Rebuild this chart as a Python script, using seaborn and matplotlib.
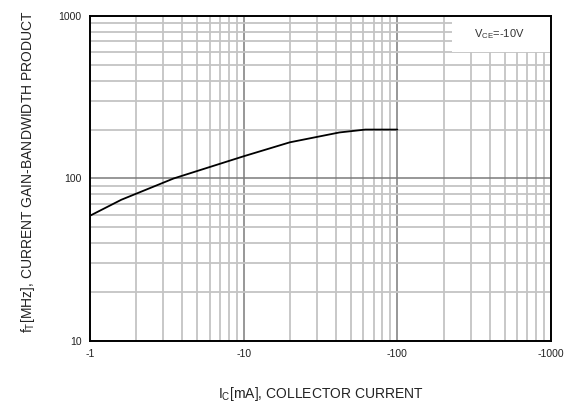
import matplotlib
matplotlib.use("Agg")
import matplotlib.pyplot as plt
import seaborn as sns
import pandas as pd
from matplotlib.ticker import LogLocator, NullFormatter
from matplotlib.patches import Rectangle

# Data
collector_current = [1, 1.6, 3.5, 10, 20, 42, 62, 100]
gain_bandwidth = [59, 74, 100, 137, 167, 192, 200, 200]
x_ticks = [1, 10, 100, 1000]
x_tick_labels = ["-1", "-10", "-100", "-1000"]
y_ticks = [10, 100, 1000]
y_tick_labels = ["10", "100", "1000"]

sns.set_style("white")
plt.rcParams["font.family"] = ["Liberation Sans", "DejaVu Sans"]

fig = plt.figure(figsize=(5.79, 4.07), dpi=100)
ax = fig.add_axes([0.1554, 0.1622, 0.7962, 0.7985])

df = pd.DataFrame({"ic": collector_current, "ft": gain_bandwidth})
sns.lineplot(data=df, x="ic", y="ft", ax=ax, color="black", linewidth=1.3, zorder=3)

ax.set_xscale("log")
ax.set_yscale("log")
ax.set_xlim(1, 1000)
ax.set_ylim(10, 1000)

ax.set_xticks(x_ticks)
ax.set_xticklabels(x_tick_labels)
ax.set_yticks(y_ticks)
ax.set_yticklabels(y_tick_labels)
ax.xaxis.set_minor_locator(LogLocator(base=10, subs=[2, 3, 4, 5, 6, 7, 8, 9]))
ax.yaxis.set_minor_locator(LogLocator(base=10, subs=[2, 3, 4, 5, 6, 7, 8, 9]))
ax.xaxis.set_minor_formatter(NullFormatter())
ax.yaxis.set_minor_formatter(NullFormatter())
ax.tick_params(which="both", length=0)
ax.tick_params(axis="x", pad=6, labelsize=7.5, colors="#222222")
ax.tick_params(axis="y", pad=6, labelsize=7.5, colors="#222222")

ax.set_axisbelow(True)
ax.grid(which="minor", color="#c4c4c4", linewidth=1.3)
ax.grid(which="major", color="#7a7a7a", linewidth=1.1)

# white box behind the condition label
ax.add_patch(Rectangle((0.785, 0.889), 0.215, 0.111, transform=ax.transAxes,
                       facecolor="white", edgecolor="none", zorder=1))
ax.text(0.887, 0.945, r"V$_\mathregular{CE}$=-10V", transform=ax.transAxes,
        ha="center", va="center", fontsize=8, color="#333333", zorder=4)

for s in ax.spines.values():
    s.set_color("black")
    s.set_linewidth(1.4)
    s.set_visible(True)

ax.set_xlabel(r"I$_\mathregular{C}$[mA], COLLECTOR CURRENT", fontsize=10,
              color="#222222")
ax.xaxis.set_label_coords(0.5, -0.135)
ax.set_ylabel(r"f$_\mathregular{T}$[MHz], CURRENT GAIN-BANDWIDTH PRODUCT", fontsize=10,
              color="#222222")
ax.yaxis.set_label_coords(-0.115, 0.52)

fig.savefig("out.png", dpi=100)
